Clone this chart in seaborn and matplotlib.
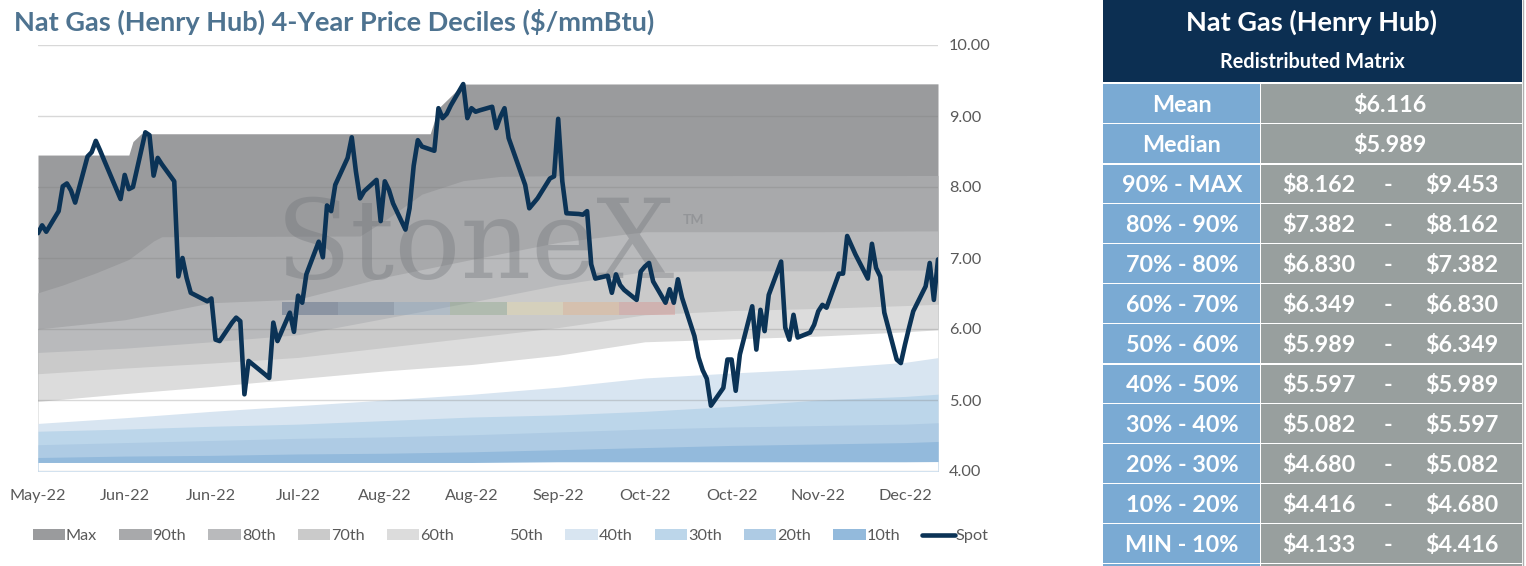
import numpy as np
import pandas as pd
import seaborn as sns
import matplotlib.pyplot as plt
from matplotlib.patches import Patch, Rectangle
from matplotlib.lines import Line2D
from matplotlib.ticker import StrMethodFormatter

sns.set_style("white")
plt.rcParams['font.family'] = ['Lato', 'DejaVu Sans']

# Spot price, one value per trading day, grouped by month
spot_may = [7.35, 7.46, 7.37, 7.66, 8.01, 8.05, 7.95, 7.78, 8.43, 8.49, 8.65, 8.52, 8.38, 7.83]
spot_jun = [8.17, 7.97, 8.00, 8.77, 8.73, 8.16, 8.41, 8.32, 8.08, 6.74, 7.00, 6.72, 6.51, 6.39,
            6.43, 5.85, 5.83, 6.09, 6.16, 6.11, 5.08]
spot_jul = [5.55, 5.36, 5.31, 6.09, 5.83, 6.23, 5.96, 6.47, 6.37, 6.77, 7.23, 7.01, 7.74, 7.66,
            8.03, 8.41, 8.70, 8.22, 7.84, 7.94]
spot_aug = [8.10, 7.52, 8.08, 7.96, 7.77, 7.40, 7.70, 8.30, 8.66, 8.57, 8.51, 9.11, 8.97, 9.03,
            9.15, 9.45, 8.97, 9.11, 9.06, 9.08, 9.13, 8.83, 8.99]
spot_sep = [9.11, 8.69, 8.03, 7.70, 7.77, 7.84, 8.12, 8.15, 8.96, 8.08, 7.63, 7.62, 7.61, 7.66,
            6.91, 6.71, 6.75, 6.51, 6.77, 6.62, 6.55]
spot_oct = [6.41, 6.81, 6.88, 6.93, 6.67, 6.37, 6.56, 6.37, 6.70, 6.44, 5.90, 5.60, 5.42, 5.30,
            4.92, 5.17, 5.57, 5.57, 5.13, 5.64, 6.32]
spot_nov = [5.71, 6.27, 5.97, 6.48, 6.95, 6.02, 5.85, 6.20, 5.88, 5.95, 6.06, 6.25, 6.34, 6.30,
            6.78, 6.78, 7.31, 7.05, 6.71, 7.20, 6.86]
spot_dec = [6.74, 6.23, 5.57, 5.52, 5.78, 6.02, 6.25, 6.60, 6.93, 6.41, 6.98]
holidays = ['2022-05-30', '2022-06-20', '2022-07-04', '2022-09-05', '2022-11-24']

# Decile curves (sampled every three weeks)
band_dates = ['2022-05-11', '2022-06-01', '2022-06-22', '2022-07-13', '2022-08-03', '2022-08-24',
              '2022-09-14', '2022-10-05', '2022-10-26', '2022-11-16', '2022-12-07', '2022-12-15']
p80 = [6.00, 6.13, 6.37, 6.42, 6.73, 6.98, 7.22, 7.37, 7.37, 7.37, 7.38, 7.382]
p70 = [5.67, 5.73, 5.82, 5.92, 6.15, 6.38, 6.62, 6.81, 6.82, 6.82, 6.83, 6.830]
p60 = [5.37, 5.45, 5.52, 5.60, 5.74, 5.88, 6.02, 6.20, 6.26, 6.29, 6.33, 6.349]
p50 = [4.98, 5.09, 5.19, 5.30, 5.41, 5.50, 5.63, 5.82, 5.86, 5.90, 5.96, 5.989]
p40 = [4.67, 4.75, 4.84, 4.92, 5.00, 5.08, 5.18, 5.31, 5.38, 5.44, 5.53, 5.597]
p30 = [4.56, 4.59, 4.63, 4.66, 4.71, 4.76, 4.79, 4.84, 4.91, 5.00, 5.05, 5.082]
p20 = [4.37, 4.40, 4.43, 4.46, 4.48, 4.51, 4.55, 4.59, 4.62, 4.64, 4.66, 4.680]
p10 = [4.19, 4.21, 4.22, 4.24, 4.25, 4.27, 4.30, 4.33, 4.36, 4.38, 4.40, 4.416]
pmin = [4.12, 4.12, 4.12, 4.12, 4.12, 4.12, 4.13, 4.13, 4.13, 4.13, 4.13, 4.133]

p90_dates = ['2022-05-11', '2022-05-17', '2022-05-25', '2022-06-02', '2022-06-08', '2022-06-10',
             '2022-07-28', '2022-08-03', '2022-08-12', '2022-08-22', '2022-08-31', '2022-09-14',
             '2022-12-15']
p90 = [6.51, 6.62, 6.79, 6.98, 7.24, 7.30, 7.31, 7.53, 7.90, 8.09, 8.15, 8.16, 8.162]

pmax_dates = ['2022-05-11', '2022-06-02', '2022-06-03', '2022-06-05', '2022-08-14', '2022-08-16',
              '2022-08-22', '2022-12-15']
pmax = [8.45, 8.45, 8.64, 8.75, 8.75, 9.11, 9.45, 9.453]

tick_labels = ['May-22', 'Jun-22', 'Jun-22', 'Jul-22', 'Aug-22', 'Aug-22', 'Sep-22', 'Oct-22',
               'Oct-22', 'Nov-22', 'Dec-22']

# Redistributed matrix table
row_labels = ['Mean', 'Median', '90% - MAX', '80% - 90%', '70% - 80%', '60% - 70%', '50% - 60%',
              '40% - 50%', '30% - 40%', '20% - 30%', '10% - 20%', 'MIN - 10%']
mean_val = 6.116
median_val = 5.989
range_low = [8.162, 7.382, 6.830, 6.349, 5.989, 5.597, 5.082, 4.680, 4.416, 4.133]
range_high = [9.453, 8.162, 7.382, 6.830, 6.349, 5.989, 5.597, 5.082, 4.680, 4.416]

spot = spot_may + spot_jun + spot_jul + spot_aug + spot_sep + spot_oct + spot_nov + spot_dec
spot_dates = pd.bdate_range('2022-05-11', '2022-12-15', freq='C', holidays=holidays)
df = pd.DataFrame({'Date': spot_dates, 'Spot': spot})
band_dates = pd.to_datetime(band_dates)

W, H = 1526, 566
fig = plt.figure(figsize=(W / 100, H / 100), dpi=100)
ax = fig.add_axes([38 / W, 95 / H, 900 / W, 426 / H])

layers = [
    (pd.to_datetime(pmax_dates), pmax, '#9a9b9d', 'Max'),
    (pd.to_datetime(p90_dates), p90, '#a8a9ab', '90th'),
    (band_dates, p80, '#b9babc', '80th'),
    (band_dates, p70, '#cacaca', '70th'),
    (band_dates, p60, '#dcdcdc', '60th'),
    (band_dates, p50, '#ffffff', '50th'),
    (band_dates, p40, '#d8e5f1', '40th'),
    (band_dates, p30, '#bcd6ea', '30th'),
    (band_dates, p20, '#aecbe4', '20th'),
    (band_dates, p10, '#93badc', '10th'),
    (band_dates, pmin, '#ffffff', None),
]
for d, v, c, _ in layers:
    ax.fill_between(d, v, 4.0, color=c, linewidth=0, zorder=1)

# StoneX watermark
ax.text(0.486, 0.453, 'StoneX', transform=ax.transAxes, ha='center', va='baseline',
        family='DejaVu Serif', fontsize=79, color='#6e7176', alpha=0.35, zorder=2)
ax.text(0.728, 0.59, 'TM', transform=ax.transAxes, ha='center', va='center',
        fontsize=10, fontweight='bold', color='#6e7176', alpha=0.35, zorder=2)
bar_colors = ['#213f66', '#43648b', '#789dc0', '#759973', '#f0df9d', '#f0aa70', '#dc7b77']
for i, c in enumerate(bar_colors):
    ax.add_patch(Rectangle((0.271 + i * 0.0624, 0.366), 0.0624, 0.031, transform=ax.transAxes,
                           color=c, alpha=0.3, linewidth=0, zorder=2))

sns.lineplot(data=df, x='Date', y='Spot', color='#0b3356', linewidth=3.3, ax=ax, zorder=4)

ax.set_xlim(band_dates[0], band_dates[-1])
ax.set_ylim(4, 10)
ax.set_yticks(np.arange(4, 10.5, 1))
ax.yaxis.set_major_formatter(StrMethodFormatter('{x:.2f}'))
ax.yaxis.tick_right()
ax.set_xticks(band_dates[:-1])
ax.set_xticklabels(tick_labels)
ax.set_xlabel('')
ax.set_ylabel('')
ax.tick_params(axis='x', length=0, pad=13, labelsize=11.7, labelcolor='#595959')
ax.tick_params(axis='y', length=0, pad=8, labelsize=11.7, labelcolor='#595959')
ax.grid(axis='y', color='#7f7f7f', alpha=0.3, linewidth=1)
ax.grid(axis='x', visible=False)
ax.set_axisbelow(False)
for s in ax.spines.values():
    s.set_visible(False)

handles = [Patch(facecolor=c, edgecolor='none', label=lab) for _, _, c, lab in layers if lab]
handles.append(Line2D([0], [0], color='#0b3356', linewidth=3.3, label='Spot'))
fig.legend(handles=handles, loc='center left', bbox_to_anchor=(18 / W, 30 / H), ncol=11,
           frameon=False, fontsize=11.7, handlelength=2.0, handleheight=0.65, handletextpad=0.05,
           columnspacing=1.36, labelcolor='#595959')

fig.text(14 / W, 1 - 22 / H, 'Nat Gas (Henry Hub) 4-Year Price Deciles ($/mmBtu)', fontsize=19.5,
         fontweight='bold', color='#4e7390', va='center', ha='left')

# Table panel
tx = fig.add_axes([1103 / W, 0, 423 / W, 1])
tx.set_xlim(0, 423)
tx.set_ylim(H, 0)
tx.axis('off')
navy, blue, grey = '#0c2f52', '#7aaad3', '#989f9e'
tfs = 16.8
tx.add_patch(Rectangle((0, 0), 419, 82, color=navy, linewidth=0))
tx.text(209, 22, 'Nat Gas (Henry Hub)', ha='center', va='center', color='white', fontsize=19.5,
        fontweight='bold')
tx.text(209, 62, 'Redistributed Matrix', ha='center', va='center', color='white', fontsize=14.3,
        fontweight='bold')
for i, lab in enumerate(row_labels):
    top = 83 + 40 * i
    gap = 2 if i in (2, 7) else 1
    tx.add_patch(Rectangle((0, top + gap), 157, 40 - gap, color=blue, linewidth=0))
    tx.add_patch(Rectangle((158, top + gap), 261, 40 - gap, color=grey, linewidth=0))
    yc = top + 22
    tx.text(79, yc, lab, ha='center', va='center', color='white', fontsize=tfs, fontweight='bold')
    if i == 0:
        tx.text(287, yc, f'${mean_val:.3f}', ha='center', va='center', color='white',
                fontsize=tfs, fontweight='bold')
    elif i == 1:
        tx.text(287, yc, f'${median_val:.3f}', ha='center', va='center', color='white',
                fontsize=tfs, fontweight='bold')
    else:
        tx.text(216, yc, f'${range_low[i - 2]:.3f}', ha='center', va='center', color='white',
                fontsize=tfs, fontweight='bold')
        tx.text(285, yc, '-', ha='center', va='center', color='white', fontsize=tfs,
                fontweight='bold')
        tx.text(359, yc, f'${range_high[i - 2]:.3f}', ha='center', va='center', color='white',
                fontsize=tfs, fontweight='bold')
tx.add_patch(Rectangle((0, 564), 157, 2, color=blue, linewidth=0))
tx.add_patch(Rectangle((158, 564), 261, 2, color=grey, linewidth=0))
tx.plot([419.5, 419.5], [0, H], color='#b0b0b0', linewidth=1)

fig.savefig('out.png', dpi=100)
